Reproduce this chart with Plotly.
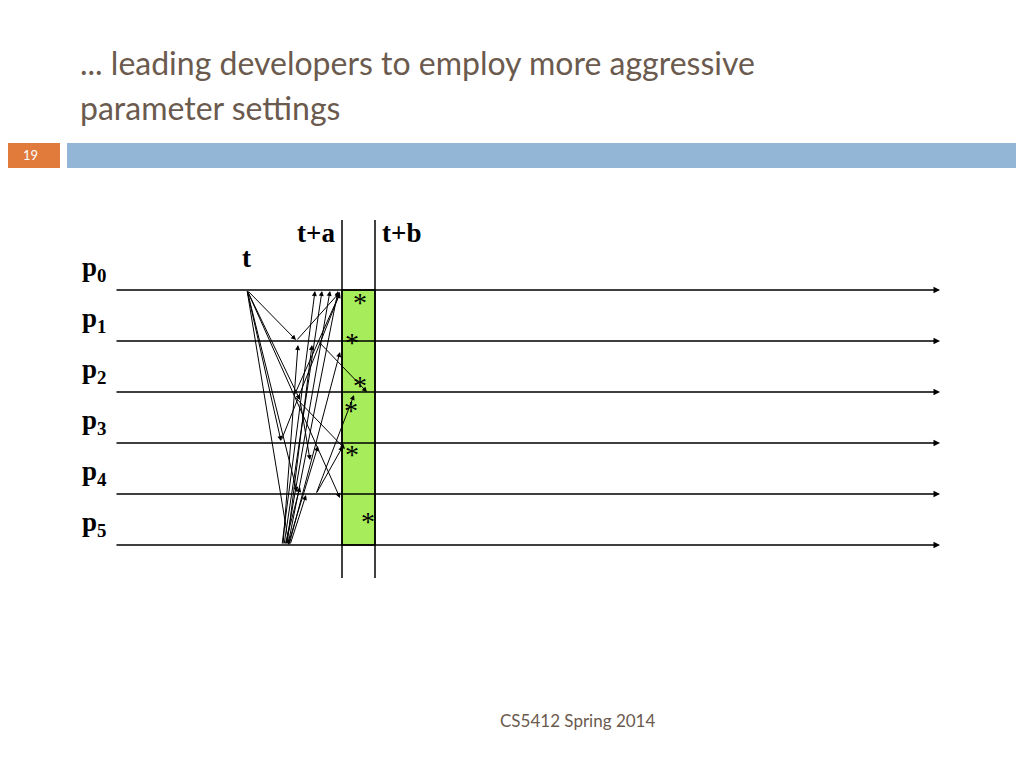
import plotly.graph_objects as go

# timeline rows (pixel-like diagram coordinates)
procs = ["p<sub>0</sub>", "p<sub>1</sub>", "p<sub>2</sub>", "p<sub>3</sub>", "p<sub>4</sub>", "p<sub>5</sub>"]
row_y = [290, 341, 392, 443, 494, 545]
t_x, ta_x, tb_x = 247, 342, 375
# asterisks inside the green window
star_x = [360, 352, 360, 351, 352, 368]
star_y = [298, 338, 381, 406, 450, 517]
# messages (x0, y0, x1, y1)
msgs = [
    (247, 290, 296, 340), (247, 290, 281, 441), (247, 290, 297, 492), (247, 290, 289, 545),
    (247, 290, 340, 498), (247, 290, 300, 400),
    (282, 545, 315, 291), (284, 545, 322, 291), (286, 545, 330, 291), (288, 545, 338, 291),
    (283, 545, 298, 345), (287, 545, 312, 345), (289, 545, 340, 352),
    (290, 545, 306, 495), (285, 545, 300, 487), (288, 545, 318, 446),
    (296, 341, 340, 292), (318, 341, 367, 392), (294, 396, 340, 293),
    (294, 396, 345, 449), (316, 494, 354, 395), (316, 494, 343, 446),
    (300, 400, 310, 460), (281, 441, 340, 293),
]

fig = go.Figure()
shapes = [
    dict(type="rect", x0=0, x1=60, y0=143, y1=168, fillcolor="#e07b3c", line_width=0),
    dict(type="rect", x0=67, x1=1032, y0=143, y1=168, fillcolor="#93b6d6", line_width=0),
    dict(type="rect", x0=ta_x, x1=tb_x, y0=row_y[0], y1=row_y[-1], fillcolor="#a6ec5b",
         line=dict(color="black", width=1.5)),
    dict(type="line", x0=ta_x, x1=ta_x, y0=220, y1=578, line=dict(color="black", width=1.5)),
    dict(type="line", x0=tb_x, x1=tb_x, y0=220, y1=578, line=dict(color="black", width=1.5)),
]
ann = []
serif = dict(family="Liberation Serif", size=27, color="black")
for name, y in zip(procs, row_y):
    ann.append(dict(x=940, y=y, ax=115, ay=y, xref="x", yref="y", axref="x", ayref="y",
                    showarrow=True, arrowhead=2, arrowsize=1, arrowwidth=1.3,
                    arrowcolor="black", text=""))
    ann.append(dict(x=80, y=y - 2, text="<b>" + name + "</b>", showarrow=False, xanchor="left",
                    yanchor="bottom", font=serif))
for x0, y0, x1, y1 in msgs:
    ann.append(dict(x=x1, y=y1, ax=x0, ay=y0, xref="x", yref="y", axref="x", ayref="y",
                    showarrow=True, arrowhead=2, arrowsize=1, arrowwidth=1,
                    arrowcolor="black", text=""))
for x, y in zip(star_x, star_y):
    ann.append(dict(x=x, y=y + 4, text="*", showarrow=False,
                    font=dict(family="Liberation Serif", size=28, color="black")))
ann += [
    dict(x=246, y=258, text="<b>t</b>", showarrow=False, font=serif),
    dict(x=316, y=233, text="<b>t+a</b>", showarrow=False, font=serif),
    dict(x=401, y=233, text="<b>t+b</b>", showarrow=False, font=serif),
    dict(x=78, y=62, text="... leading developers to employ more aggressive", showarrow=False,
         xanchor="left", font=dict(family="Lato", size=32, color="#6b5a4e")),
    dict(x=78, y=107, text="parameter settings", showarrow=False,
         xanchor="left", font=dict(family="Lato", size=32, color="#6b5a4e")),
    dict(x=30, y=155, text="19", showarrow=False, font=dict(family="Lato", size=13, color="white")),
    dict(x=577, y=720, text="CS5412 Spring 2014", showarrow=False,
         font=dict(family="Lato", size=17, color="#6b5a4e")),
]
fig.update_layout(
    width=1024, height=768, margin=dict(l=0, r=0, t=0, b=0),
    plot_bgcolor="white", paper_bgcolor="white", shapes=shapes, annotations=ann,
    xaxis=dict(range=[8, 1032], visible=False, fixedrange=True),
    yaxis=dict(range=[776, 8], visible=False, fixedrange=True),
    showlegend=False,
)
fig.write_html("out.html")
